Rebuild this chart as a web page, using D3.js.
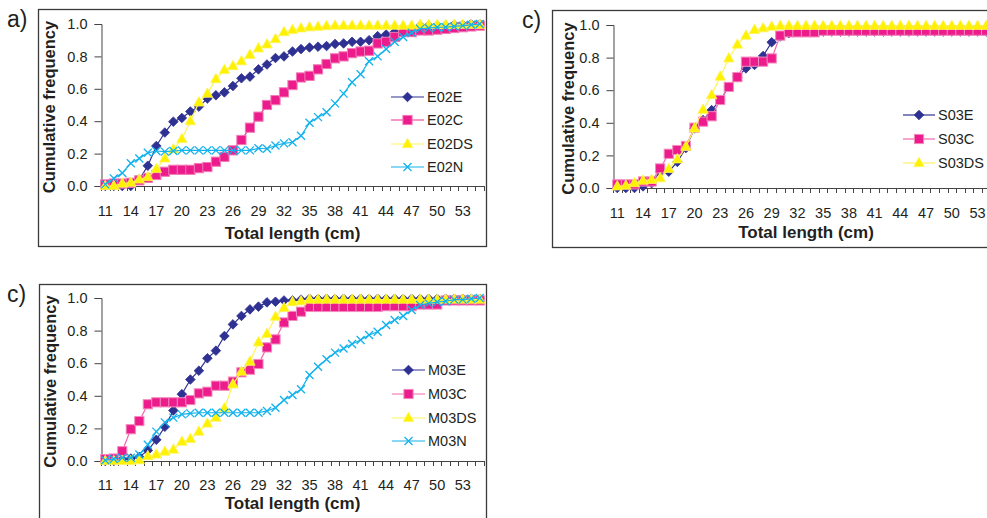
<!DOCTYPE html>
<html>
<head>
<meta charset="utf-8">
<script src="https://cdnjs.cloudflare.com/ajax/libs/d3/7.8.5/d3.min.js"></script>
<style>
  html, body { margin: 0; padding: 0; background: #fff; }
  svg { display: block; font-family: "Liberation Sans", Arial, sans-serif; }
</style>
</head>
<body>
<svg id="chart" width="987" height="518"></svg>
<script>
// ---------- DATA ----------
const lengths = [11,12,13,14,15,16,17,18,19,20,21,22,23,24,25,26,27,28,29,30,31,32,33,34,35,36,37,38,39,40,41,42,43,44,45,46,47,48,49,50,51,52,53,54,55];
const tickLabels = ["11","14","17","20","23","26","29","32","35","38","41","44","47","50","53"];
const yTicks = [0, 0.2, 0.4, 0.6, 0.8, 1.0];

// panel a)
const E02E  = [0,0,0,0,0.04,0.125,0.247,0.33,0.397,0.42,0.46,0.49,0.54,0.56,0.578,0.617,0.665,0.675,0.72,0.75,0.79,0.80,0.83,0.845,0.855,0.86,0.864,0.877,0.88,0.89,0.89,0.90,0.925,0.935,0.95,0.96,0.97,0.99,0.99,0.99,0.99,0.995,0.995,1.0,1.0];
const E02C  = [0.01,0.015,0.015,0.02,0.035,0.05,0.068,0.088,0.1,0.1,0.1,0.11,0.117,0.15,0.18,0.22,0.284,0.36,0.428,0.5,0.53,0.578,0.623,0.67,0.68,0.72,0.753,0.788,0.80,0.82,0.83,0.835,0.88,0.89,0.92,0.95,0.95,0.96,0.96,0.965,0.97,0.975,0.98,0.985,0.99];
const E02DS = [0,0,0.015,0.02,0.04,0.055,0.105,0.17,0.226,0.29,0.40,0.516,0.57,0.66,0.716,0.74,0.77,0.81,0.85,0.874,0.907,0.95,0.963,0.973,0.98,0.983,0.987,0.99,0.99,0.99,0.99,0.99,0.99,0.99,0.99,0.99,0.99,0.995,0.995,0.995,0.995,0.995,0.995,0.995,0.995];
const E02N  = [0.01,0.047,0.08,0.14,0.17,0.205,0.216,0.212,0.216,0.22,0.22,0.22,0.22,0.22,0.22,0.22,0.22,0.22,0.233,0.23,0.25,0.263,0.27,0.31,0.39,0.425,0.455,0.51,0.57,0.64,0.69,0.77,0.80,0.846,0.89,0.92,0.946,0.97,0.975,0.98,0.98,0.985,0.99,0.995,1.0];

// panel c) top right
const S03E  = [0,0,0,0.01,0.03,0.1,0.10,0.16,0.245,0.366,0.417,0.478,0.54,0.62,0.68,0.734,0.755,0.81,0.894,0.93,0.95,0.96,0.96,0.96,0.96,0.96,0.96,0.96,0.96,0.96,0.96,0.96,0.96,0.96,0.96,0.96,0.96,0.96,0.96,0.96,0.96,0.96,0.96,0.96,0.96];
const S03C  = [0.022,0.022,0.022,0.04,0.04,0.12,0.21,0.233,0.258,0.37,0.407,0.44,0.54,0.62,0.68,0.775,0.775,0.775,0.795,0.935,0.955,0.955,0.955,0.955,0.965,0.965,0.965,0.965,0.965,0.965,0.965,0.965,0.965,0.965,0.965,0.965,0.965,0.965,0.965,0.965,0.965,0.965,0.965,0.965,0.965];
const S03DS = [0.01,0.015,0.03,0.045,0.05,0.06,0.117,0.176,0.254,0.366,0.48,0.57,0.683,0.795,0.88,0.935,0.97,0.98,0.99,0.995,0.995,0.995,0.995,0.995,0.995,0.995,0.995,0.995,0.995,0.995,0.995,0.995,0.995,0.995,0.995,0.995,0.995,0.995,0.995,0.995,0.995,0.995,0.995,0.995,0.995];

// panel c) bottom
const M03E  = [0,0,0.01,0.015,0.025,0.065,0.13,0.21,0.31,0.41,0.50,0.554,0.63,0.677,0.767,0.838,0.89,0.93,0.947,0.973,0.977,0.985,0.985,0.99,0.995,0.995,0.995,0.995,0.995,0.995,0.995,0.995,0.995,0.995,0.995,0.995,0.995,0.995,0.995,0.995,0.995,0.995,0.995,0.995,0.995];
const M03C  = [0.012,0.015,0.06,0.195,0.245,0.348,0.36,0.36,0.36,0.36,0.374,0.415,0.425,0.462,0.462,0.487,0.544,0.56,0.595,0.697,0.746,0.85,0.89,0.916,0.945,0.945,0.945,0.945,0.945,0.945,0.945,0.945,0.945,0.95,0.95,0.95,0.95,0.96,0.96,0.96,0.985,0.985,0.985,0.985,0.985];
const M03DS = [0,0,0,0,0.005,0.03,0.04,0.057,0.07,0.118,0.135,0.18,0.23,0.266,0.323,0.47,0.548,0.61,0.728,0.78,0.885,0.94,0.975,0.98,0.99,0.99,0.99,0.99,0.99,0.99,0.99,0.99,0.99,0.99,0.99,0.99,0.99,0.99,0.99,0.99,0.99,0.99,0.99,0.99,0.99];
const M03N  = [0.005,0.012,0.02,0.02,0.04,0.1,0.18,0.237,0.266,0.286,0.292,0.296,0.296,0.296,0.296,0.296,0.296,0.296,0.296,0.307,0.327,0.374,0.405,0.44,0.528,0.578,0.624,0.665,0.69,0.718,0.742,0.773,0.793,0.834,0.865,0.89,0.926,0.957,0.967,0.975,0.98,0.99,0.99,0.995,1.0];

// ---------- STYLES ----------
const NAVY = "#2E3192", MAG = "#EC1C8C", PINKLINE = "#F06AAE", YEL = "#FFF200", YELLINE = "#FFF35A", CYAN = "#12B2EC";
const styleE  = {marker: "diamond", fill: NAVY, stroke: NAVY, line: NAVY};
const styleC  = {marker: "square", fill: MAG, stroke: "#F48BBE", line: PINKLINE};
const styleCa = {marker: "square", fill: MAG, stroke: "#F27AB6", line: "#EC2D92"};
const styleDS = {marker: "triangle", fill: YEL, stroke: "#FFF45C", line: YELLINE};
const styleN  = {marker: "cross", fill: "none", stroke: CYAN, line: CYAN};

const panels = [
  { tag: "a)", tagX: 7, tagY: 27,
    frame: {x: 38.5, y: 9.5, w: 448, h: 237},
    plot: {left: 101, right: 484, top: 24, bottom: 186},
    ylabX: 55, tickBase: 30, titleBase: 53,
    legend: {x1: 391, x2: 424, tx: 427, ys: [97, 120, 144, 167]},
    series: [["E02E", E02E, styleE], ["E02C", E02C, styleCa], ["E02DS", E02DS, styleDS], ["E02N", E02N, styleN]] },
  { tag: "c)", tagX: 522, tagY: 28,
    frame: {x: 552.5, y: 10.5, w: 460, h: 237},
    plot: {left: 613, right: 999, top: 25, bottom: 188},
    ylabX: 574, tickBase: 30, titleBase: 50,
    legend: {x1: 903, x2: 935, tx: 938, ys: [115, 139, 163]},
    series: [["S03E", S03E, styleE], ["S03C", S03C, styleC], ["S03DS", S03DS, styleDS]] },
  { tag: "c)", tagX: 7, tagY: 302,
    frame: {x: 39.5, y: 284.5, w: 447, h: 260},
    plot: {left: 101, right: 484, top: 298, bottom: 461},
    ylabX: 56, tickBase: 29, titleBase: 48,
    legend: {x1: 392, x2: 425, tx: 428, ys: [370, 394, 418, 441]},
    series: [["M03E", M03E, styleE], ["M03C", M03C, styleC], ["M03DS", M03DS, styleDS], ["M03N", M03N, styleN]] }
];

const svg = d3.select("#chart");
const TXT = "#231F20";

function drawMarker(g, type, x, y, st) {
  if (type === "diamond") {
    g.append("path").attr("d", `M${x},${y-4.8}L${x+4.8},${y}L${x},${y+4.8}L${x-4.8},${y}Z`)
      .attr("fill", st.fill).attr("stroke", st.stroke).attr("stroke-width", 0.8);
  } else if (type === "square") {
    g.append("rect").attr("x", x-4.6).attr("y", y-4.6).attr("width", 9.2).attr("height", 9.2)
      .attr("fill", st.fill).attr("stroke", st.stroke).attr("stroke-width", 1);
  } else if (type === "triangle") {
    g.append("path").attr("d", `M${x},${y-5.8}L${x+5.2},${y+3.6}L${x-5.2},${y+3.6}Z`)
      .attr("fill", st.fill).attr("stroke", st.stroke).attr("stroke-width", 0.8);
  } else {
    g.append("path").attr("d", `M${x-4},${y-4}L${x+4},${y+4}M${x-4},${y+4}L${x+4},${y-4}`)
      .attr("fill", "none").attr("stroke", st.stroke).attr("stroke-width", 1.3);
  }
}

panels.forEach(p => {
  const g = svg.append("g");
  g.append("rect").attr("x", p.frame.x).attr("y", p.frame.y).attr("width", p.frame.w).attr("height", p.frame.h)
    .attr("fill", "none").attr("stroke", "#3a3a3a").attr("stroke-width", 1.3);
  g.append("text").attr("x", p.tagX).attr("y", p.tagY).attr("font-size", 23).attr("fill", TXT).text(p.tag);

  const x = d3.scaleBand().domain(lengths).range([p.plot.left, p.plot.right]).padding(0);
  const y = d3.scaleLinear().domain([0, 1]).range([p.plot.bottom, p.plot.top]);
  const cx = d => x(d) + x.bandwidth() / 2;

  const yAxis = d3.axisLeft(y).tickValues(yTicks).tickFormat(d3.format(".1f")).tickSizeOuter(0).tickSize(7).tickPadding(7);
  const ya = g.append("g").attr("transform", `translate(${p.plot.left + 0.5},0)`).call(yAxis);
  ya.select(".domain").attr("stroke", "#444");
  ya.selectAll(".tick line").attr("stroke", "#444");
  ya.selectAll(".tick text").attr("font-size", 14.5).attr("fill", TXT).attr("font-family", "Liberation Sans, Arial, sans-serif");

  const xa = g.append("g");
  xa.append("line").attr("x1", p.plot.left).attr("x2", p.plot.right)
    .attr("y1", p.plot.bottom + 0.5).attr("y2", p.plot.bottom + 0.5).attr("stroke", "#444");
  const bounds = lengths.map(d => x(d)).concat([x(lengths[lengths.length - 1]) + x.bandwidth()]);
  xa.selectAll("line.tk").data(bounds).join("line").attr("class", "tk")
    .attr("x1", d => Math.round(d) + 0.5).attr("x2", d => Math.round(d) + 0.5)
    .attr("y1", p.plot.bottom).attr("y2", p.plot.bottom + 5).attr("stroke", "#444");
  xa.selectAll("text").data(tickLabels).join("text")
    .attr("x", d => cx(+d)).attr("y", p.plot.bottom + p.tickBase)
    .attr("text-anchor", "middle").attr("font-size", 14.5).attr("fill", TXT).text(d => d);

  g.append("text").attr("x", (p.plot.left + p.plot.right) / 2).attr("y", p.plot.bottom + p.titleBase)
    .attr("text-anchor", "middle").attr("font-size", 17).attr("font-weight", "bold").attr("fill", TXT)
    .text("Total length (cm)");
  g.append("text").attr("transform", `translate(${p.ylabX},${(p.plot.top + p.plot.bottom) / 2 + 2}) rotate(-90)`)
    .attr("text-anchor", "middle").attr("font-size", 16.5).attr("font-weight", "bold").attr("fill", TXT)
    .text("Cumulative frequency");

  const line = d3.line().x((d, i) => cx(lengths[i])).y(d => y(d));
  p.series.forEach(([name, vals, st]) => {
    const sg = g.append("g");
    sg.append("path").attr("d", line(vals)).attr("fill", "none").attr("stroke", st.line).attr("stroke-width", 1.2);
    vals.forEach((v, i) => drawMarker(sg, st.marker, cx(lengths[i]), y(v), st));
  });

  p.series.forEach(([name, vals, st], i) => {
    const ly = p.legend.ys[i];
    const lg = g.append("g");
    lg.append("line").attr("x1", p.legend.x1).attr("x2", p.legend.x2).attr("y1", ly).attr("y2", ly)
      .attr("stroke", st.line).attr("stroke-width", 1.2);
    drawMarker(lg, st.marker, (p.legend.x1 + p.legend.x2) / 2, ly, st);
    lg.append("text").attr("x", p.legend.tx).attr("y", ly + 5).attr("font-size", 14.5).attr("fill", TXT).text(name);
  });
});
</script>
</body>
</html>
